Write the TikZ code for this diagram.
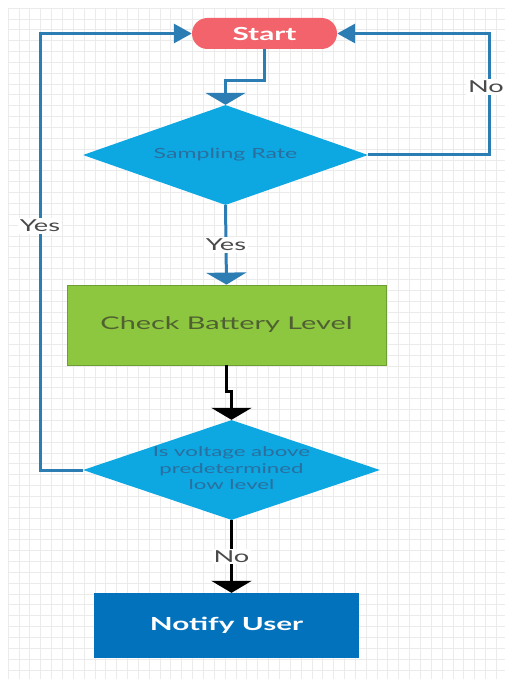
\documentclass[tikz,border=0pt]{standalone}
\usepackage{fontspec}
\setmainfont{Lato}
\usepackage{graphicx}
\usetikzlibrary{arrows.meta,shapes.geometric}
\definecolor{startred}{HTML}{F2636B}
\definecolor{lineblue}{HTML}{2C7DB4}
\definecolor{dfill}{HTML}{0DA7E2}
\definecolor{dtext}{HTML}{2A6F9E}
\definecolor{gfill}{HTML}{8DC63F}
\definecolor{gborder}{HTML}{6E9E33}
\definecolor{gtext}{HTML}{4F6131}
\definecolor{nfill}{HTML}{0272BC}
\definecolor{lbl}{HTML}{4A4A4A}
\definecolor{gridc}{HTML}{EBEBEB}
\newcommand\stx[1]{\scalebox{1.65}[1]{#1}}
\begin{document}
\begin{tikzpicture}[x=1pt,y=-1pt,
  startnode/.style={rectangle,rounded corners=15.5pt,fill=startred,text=white,minimum width=145pt,minimum height=31pt,inner sep=0pt,font=\fontsize{18}{20}\selectfont\bfseries},
  decision/.style={diamond,fill=dfill,inner sep=0pt,aspect=2.85},
  procbox/.style={rectangle,fill=gfill,draw=gborder,line width=0.8pt,text=gtext,minimum width=319pt,minimum height=80pt,inner sep=0pt,font=\fontsize{17.5}{19}\selectfont},
  notifybox/.style={rectangle,fill=nfill,text=white,minimum width=265pt,minimum height=65pt,inner sep=0pt,font=\fontsize{18}{20}\selectfont\bfseries},
  blueline/.style={draw=lineblue,line width=3pt},
  blackline/.style={draw=black,line width=3pt},
  downtip/.style={-{Triangle[width=40pt,length=12pt]}},
  sidetip/.style={-{Triangle[width=19pt,length=18pt]}},
  lbltext/.style={fill=white,text=lbl,inner sep=2pt,font=\fontsize{16.5}{18}\selectfont},
  gridline/.style={draw=gridc,line width=0.6pt}
]
\useasboundingbox (0,0) rectangle (505,679);
\fill[white] (0,0) rectangle (505,679);
\foreach \i in {0,...,45} \draw[gridline] ({8+\i*10.85},8) -- ({8+\i*10.85},679);
\foreach \j in {0,...,61} \draw[gridline] (8,{8+\j*10.85}) -- (505,{8+\j*10.85});

\node[startnode] (start) at (264.5,33.5) {\stx{Start}};
\node[decision,minimum width=285pt,minimum height=100pt,
  label={[text=dtext,font=\fontsize{14}{16}\selectfont]center:\stx{Sampling Rate}}] (d1) at (225.5,155) {};
\node[procbox] (check) at (226.5,325) {\stx{Check Battery Level}};
\node[decision,minimum width=297pt,minimum height=100pt,
  label={[text=dtext,font=\fontsize{13.5}{16.5}\selectfont]center:\stx{\begin{tabular}{@{}c@{}}Is voltage above\\predetermined\\low level\end{tabular}}}] (d2) at (231.5,470) {};
\node[notifybox] (notify) at (226.5,625.5) {\stx{Notify User}};

\coordinate (nr1) at (489,155);
\coordinate (nr2) at (489,33.5);
\coordinate (yl1) at (40,470);
\coordinate (yl2) at (40,33.5);

\draw[blueline,downtip] (start.south) -- ++(0,31) -| (d1.north);
\draw[blueline,sidetip] (d1.east) -- (nr1) -- node[lbltext,pos=0.56,xshift=-3pt]{\stx{No}} (nr2) -- (start.east);
\draw[blueline,sidetip] (d2.west) -- (yl1) -- node[lbltext,pos=0.56]{\stx{Yes}} (yl2) -- (start.west);
\draw[blueline,downtip] (d1.south) -- node[lbltext,pos=0.5]{\stx{Yes}} (check.north);
\draw[blackline,downtip] (check.south) -- ++(0,26) -| (d2.north);
\draw[blackline,downtip] (d2.south) -- node[lbltext,pos=0.5]{\stx{No}} (d2.south |- notify.north);
\end{tikzpicture}
\end{document}
